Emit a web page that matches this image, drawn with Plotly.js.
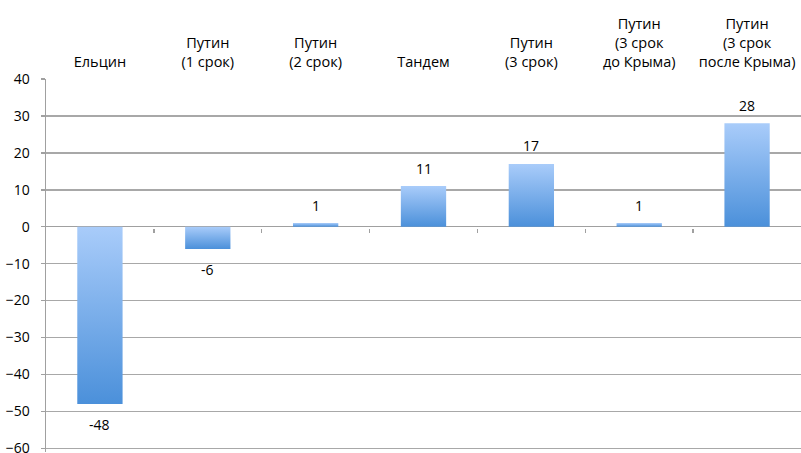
<!DOCTYPE html>
<html>
<head>
<meta charset="utf-8">
<script src="https://cdn.plot.ly/plotly-3.0.1.min.js"></script>
<style>html,body{margin:0;padding:0;background:#fff;}#chart{width:801px;height:453px;}</style>
</head>
<body>
<div id="chart"></div>
<script>
var categories = ["Ельцин", "Путин<br>(1 срок)", "Путин<br>(2 срок)", "Тандем", "Путин<br>(3 срок)", "Путин<br>(3 срок<br>до Крыма)", "Путин<br>(3 срок<br>после Крыма)"];
var values = [-48, -6, 1, 11, 17, 1, 28];
var yTicks = [-60, -50, -40, -30, -20, -10, 0, 10, 20, 30, 40];

var FONT = "'Open Sans', 'Noto Sans', sans-serif";
var FS = 14;
var halfW = 0.21;
var traces = [];
values.forEach(function (v, i) {
  traces.push({
    type: "scatter",
    x: [i - halfW, i - halfW, i + halfW, i + halfW, i - halfW],
    y: [0, v, v, 0, 0],
    mode: "lines",
    line: {width: 0, color: "rgba(0,0,0,0)"},
    fill: "toself",
    fillgradient: {type: "vertical", colorscale: [[0, "#4b90da"], [1, "#a9ccfa"]]},
    hoverinfo: "skip",
    showlegend: false,
    xaxis: "x",
    yaxis: "y"
  });
});
// invisible trace to carry the boundary-tick axis
traces.push({type: "scatter", x: [0], y: [0], mode: "markers", marker: {opacity: 0}, showlegend: false, hoverinfo: "skip", xaxis: "x2", yaxis: "y"});

var annotations = values.map(function (v, i) {
  return {x: i, y: v, xref: "x", yref: "y", text: String(v), showarrow: false,
    yanchor: "middle", yshift: v >= 0 ? 18 : -21,
    font: {family: FONT, size: FS, color: "#000"}};
});

var layout = {
  width: 801, height: 453,
  margin: {l: 46, r: 0, t: 79, b: 1},
  paper_bgcolor: "#fff", plot_bgcolor: "#fff",
  font: {family: FONT, size: FS, color: "#000"},
  xaxis: {
    range: [-0.5, 6.5], side: "top", showgrid: false, zeroline: false, showline: false,
    tickmode: "array", tickvals: [0, 1, 2, 3, 4, 5, 6], ticktext: categories, ticks: "",
    tickfont: {family: FONT, size: 14.5, color: "#000"}, ticklabelstandoff: 8, fixedrange: true
  },
  xaxis2: {
    overlaying: "x", anchor: "free", position: 0.6, range: [-0.5, 6.5], side: "bottom",
    showgrid: false, zeroline: false, showline: false, showticklabels: false,
    tickmode: "array", tickvals: [0.5, 1.5, 2.5, 3.5, 4.5, 5.5], ticks: "outside", ticklen: 4,
    tickwidth: 1.5, tickcolor: "#a0a0a0"
  },
  yaxis: {
    range: [-61, 40], tickmode: "array", tickvals: yTicks,
    showgrid: true, gridcolor: "#a8a8a8", gridwidth: 1.5,
    zeroline: true, zerolinecolor: "#a0a0a0", zerolinewidth: 1.5,
    showline: true, linecolor: "#a0a0a0", linewidth: 1.5,
    ticks: "outside", ticklen: 4, tickwidth: 1.5, tickcolor: "#a0a0a0",
    ticklabelstandoff: 8, ticklabeloverflow: "allow",
    tickfont: {family: FONT, size: FS, color: "#000"}
  },
  annotations: annotations
};

Plotly.newPlot("chart", traces, layout, {displayModeBar: false, staticPlot: true});
</script>
</body>
</html>
